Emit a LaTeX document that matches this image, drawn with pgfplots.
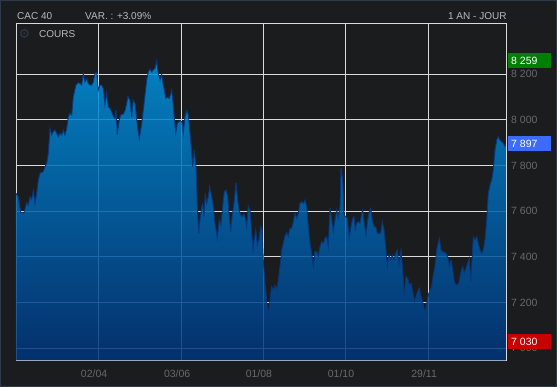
\documentclass[border=0pt]{standalone}
\usepackage{fontspec}
\setmainfont{Liberation Sans}
\newfontfamily\gearfont{DejaVu Sans}
\usepackage{pgfplots}
\pgfplotsset{compat=1.18}
\usepackage{pgfplotstable}

\definecolor{bg}{RGB}{27,28,30}
\definecolor{frameout}{RGB}{44,58,74}
\definecolor{gridc}{RGB}{218,218,218}
\definecolor{areatop}{RGB}{0,146,221}
\definecolor{areabot}{RGB}{0,52,122}
\definecolor{edgec}{RGB}{8,55,125}
\definecolor{tickc}{RGB}{105,105,105}
\definecolor{headc}{RGB}{185,185,185}
\definecolor{gearc}{RGB}{42,56,72}
\definecolor{maxc}{RGB}{0,128,0}
\definecolor{lastc}{RGB}{59,108,255}
\definecolor{minc}{RGB}{200,0,0}

\pgfplotstableread{
x y
0 7678
2.3 7663
4.7 7593
8 7593
10.7 7637
12.3 7627
14 7663
15.7 7652
17.3 7690
19 7634
20.7 7678
22.3 7736
24 7766
27.3 7773
29 7795
30.7 7809
32.3 7853
34 7962
35.7 7933
37.3 7948
39 7955
40.7 7941
42.3 7926
44 7941
45.7 7933
47.3 7955
49 7933
50.7 7962
52.3 8013
54 8028
55.7 8021
57.3 8101
60 8152
62.3 8162
64 8159
65.7 8152
67.3 8203
69 8166
70.7 8181
72.3 8159
74 8152
75.7 8152
77.3 8166
79 8203
80.7 8206
82.3 8130
84 8152
85.7 8152
87.3 8137
89 8064
90.7 8118
92.3 8057
94 8050
95.7 8035
97.3 8016
99 8006
100 8043
101.3 7933
103.3 7999
104.7 8021
107.3 8025
109 8040
110.7 8072
112 8104
114 8086
115.7 8013
117.3 8086
119 8072
120.7 7999
123.3 7914
125.7 7984
127.3 8043
129 8108
130.7 8174
132.3 8210
134 8221
135.7 8210
137.3 8218
139 8225
140.7 8259
142.3 8203
144 8174
145.7 8199
146.7 8166
148 8137
149.7 8094
151.3 8098
153.3 8094
155.7 8130
157.3 8057
159.7 7941
161.3 7984
164 7996
166 7991
167.3 7941
169 8013
170.7 8040
172.3 8021
174 7941
175.7 7853
176.7 7795
178.3 7868
180 7795
181.3 7620
182.7 7503
184 7561
185.7 7620
186.7 7631
188 7576
189.3 7678
190.7 7634
192.3 7663
193.7 7707
195.7 7663
197.3 7620
199 7547
201.3 7481
203.3 7561
205 7539
206.7 7620
208.3 7685
210 7693
211.7 7663
213 7591
214.7 7510
216.3 7583
218 7634
220 7725
221.3 7663
223 7605
224.7 7583
226.3 7576
228 7588
229.3 7569
230.7 7532
232.3 7623
234 7605
235.3 7532
237 7430
238.3 7474
239.7 7518
241.3 7452
243 7474
244.7 7532
246 7518
247.3 7386
249 7284
250.7 7211
252.3 7146
254 7211
255.7 7270
257.3 7255
259 7277
260.7 7255
262.3 7299
264 7357
265.7 7430
267.3 7459
269 7491
270.7 7506
272.3 7488
274 7525
275.7 7525
277.3 7554
279 7591
280.7 7569
282.3 7591
284 7634
285.7 7641
287.3 7634
289 7649
290.7 7620
292.3 7532
294 7459
295.7 7416
297.3 7357
299 7423
300.7 7423
302.3 7401
304 7445
305.7 7466
307.3 7459
309 7481
310.7 7488
312.3 7445
314 7613
315.7 7561
317.3 7510
319 7561
320.7 7605
322.3 7569
324 7620
325 7788
326.7 7736
328 7583
329.7 7576
331.3 7569
333.3 7481
335 7532
336.7 7569
338 7576
339.3 7518
340.7 7547
342.3 7554
344 7547
345.7 7591
346.7 7605
348.3 7547
350 7496
351.7 7561
353.3 7598
354.7 7613
356.3 7561
358 7532
359.7 7532
361.3 7503
364.7 7503
366.3 7554
368 7518
369.7 7445
371.3 7357
373 7408
374.7 7386
376.3 7408
378 7386
379.7 7416
381.3 7430
383 7364
385 7430
386.7 7343
388.3 7226
390 7313
391.7 7306
393.3 7277
395 7284
396.7 7248
398.3 7204
400 7226
401.7 7248
403.3 7263
405 7226
406.7 7204
409 7153
410.7 7197
412.3 7233
414 7255
415.7 7270
417.3 7321
419 7357
420.7 7430
423.3 7481
425 7430
426.7 7423
430 7416
431.7 7401
433.3 7357
435 7386
436.7 7343
438.3 7291
440 7277
441.7 7277
443.3 7291
445 7335
446.7 7357
448.3 7328
450 7350
451.7 7372
453.3 7394
454.7 7291
456.3 7401
457.3 7488
459 7474
460.7 7488
462.3 7459
464 7430
465.7 7416
467.3 7430
469 7474
470.7 7561
472.3 7678
474 7714
475.7 7736
477.3 7780
479 7868
480.7 7911
482.3 7926
484 7911
485.7 7904
487.3 7897
489 7882
490.7 7897
}\cac

\begin{document}
\begin{tikzpicture}[x=1pt,y=1pt]
\fill[bg] (0,0) rectangle (557,387);
\draw[frameout, line width=1pt] (0.5,0.5) rectangle (556.5,386.5);
\begin{axis}[
  at={(16pt,26.7pt)}, anchor=south west,
  width=490.7pt, height=337pt, scale only axis,
  xmin=0, xmax=490.7, ymin=6947.5, ymax=8422,
  xtick={82.4,165.5,247.2,329.3,412.4},
  xticklabels={02/04,03/06,01/08,01/10,29/11},
  ytick={7000,7200,7400,7600,7800,8000,8200},
  yticklabels={7 000,7 200,7 400,7 600,7 800,8 000,8 200},
  yticklabel pos=right,
  major tick length=0pt,
  grid=major,
  major grid style={gridc, line width=0.9pt},
  axis line style={gridc, line width=0.9pt},
  tick label style={font=\fontsize{10.5}{12}\selectfont, text=tickc},
  xticklabel style={anchor=center, yshift=-13.7pt, xshift=-4.3pt, inner sep=0pt},
  yticklabel style={anchor=west, xshift=4.3pt, inner sep=0pt},
]
\addplot[draw=none, top color=areatop, bottom color=areabot, fill opacity=0.85]
  table[x=x,y=y]{\cac} |- (axis cs:0,6947.5) -- cycle;
\addplot[edgec, line width=0.9pt, no marks] table[x=x,y=y]{\cac};
\end{axis}
\draw[gridc, line width=0.9pt] (506.7,26.3) -- (506.7,364.1);
% header
\node[anchor=west, text=headc, font=\fontsize{10}{12}\selectfont, inner sep=0pt] at (17,371.3) {CAC 40};
\node[anchor=west, text=headc, font=\fontsize{10}{12}\selectfont, inner sep=0pt] at (85,371.3) {VAR. : +3.09\%};
\node[anchor=east, text=headc, font=\fontsize{10}{12}\selectfont, inner sep=0pt] at (506.7,371.3) {1 AN - JOUR};
\node[text=gearc, font=\gearfont\fontsize{13}{13}\selectfont, inner sep=0pt] at (24.5,352.7) {⚙};
\node[anchor=west, text=headc, font=\fontsize{10}{12}\selectfont, inner sep=0pt] at (39,352.7) {COURS};
% value boxes
\fill[maxc] (508.3,318.7) rectangle (551,333.7);
\node[anchor=west, text=white, font=\fontsize{10.5}{12}\selectfont, inner sep=0pt] at (511,326.2) {8 259};
\fill[lastc] (508.3,236) rectangle (551,251);
\node[anchor=west, text=white, font=\fontsize{10.5}{12}\selectfont, inner sep=0pt] at (511,243.5) {7 897};
\fill[minc] (508.3,38) rectangle (551,53);
\node[anchor=west, text=white, font=\fontsize{10.5}{12}\selectfont, inner sep=0pt] at (511,45.5) {7 030};
\end{tikzpicture}
\end{document}
